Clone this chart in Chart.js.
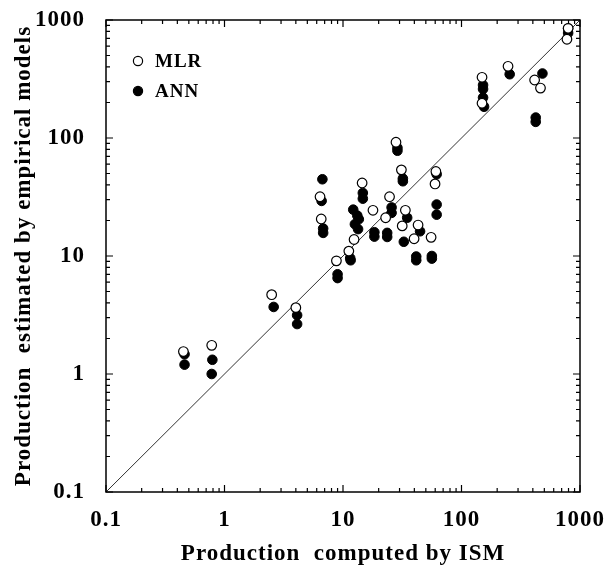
<!DOCTYPE html>
<html>
<head>
<meta charset="utf-8">
<script src="https://cdn.jsdelivr.net/npm/chart.js@4.4.1/dist/chart.umd.min.js"></script>
<style>
    html, body { margin: 0; padding: 0; background: #fff; }
</style>
</head>
<body>
<canvas id="myChart" width="615" height="569"></canvas>
<script>
// values (both axes log scale)
const mlrIsm = [0.45, 0.78, 2.5, 4.0, 6.4, 6.55, 8.8, 11.2, 12.4, 14.5, 17.9, 22.9, 24.7, 28, 31.1, 31.6, 33.6, 39.8, 43, 55.4, 59.8, 60.8, 149, 149, 247, 414, 464, 776, 794];
const mlrEst = [1.55, 1.75, 4.7, 3.65, 31.8, 20.6, 9.1, 11.0, 13.8, 41.6, 24.4, 21.1, 31.8, 92, 53.7, 18.0, 24.4, 14.0, 18.3, 14.4, 40.8, 52, 327, 197, 405, 310, 265, 687, 850];
const annIsm = [0.46, 0.46, 0.79, 0.78, 2.6, 4.1, 4.1, 6.7, 6.6, 6.8, 6.8, 9.0, 9.0, 11.5, 11.6, 12.2, 13.2, 12.6, 13.6, 13.4, 14.7, 14.7, 18.4, 18.4, 23.6, 23.6, 25.7, 25.7, 28.8, 28.8, 32, 32, 32.6, 34.8, 41.5, 41.5, 44.7, 56.2, 56.2, 61.7, 61.7, 61.7, 152, 152, 152, 155, 255, 423, 423, 482, 794, 794];
const annEst = [1.47, 1.2, 1.32, 1.0, 3.7, 3.15, 2.65, 44.7, 29.3, 17.1, 15.7, 7.0, 6.5, 9.6, 9.2, 24.7, 22, 18.6, 20.5, 16.9, 34.2, 30.6, 15.9, 14.6, 15.7, 14.5, 25.8, 23.2, 82.6, 78, 45.3, 43, 13.2, 21.1, 9.9, 9.2, 16.2, 10.0, 9.5, 49.3, 27.3, 22.4, 281, 260, 220, 184, 347, 149, 137, 352, 849, 776];
const lineIsm = [0.1, 1000];
const lineEst = [0.1, 1000];
const axisTicks = [0.1, 1, 10, 100, 1000];

const pairs = (xs, ys) => xs.map((v, i) => ({x: v, y: ys[i]}));
const serif = "'Liberation Serif', 'DejaVu Serif', serif";

// the printed figure uses a loosely tracked Times face
const tracking = {
    id: 'tracking',
    beforeInit(chart) { chart.ctx.letterSpacing = '1px'; },
    beforeDraw(chart) { chart.ctx.letterSpacing = '1px'; }
};

// frame, inward ticks on all four sides, and the legend inside the plot
const frameAndLegend = {
    id: 'frameAndLegend',
    afterDatasetsDraw(chart) {
        const ctx = chart.ctx;
        const a = chart.chartArea;
        const x = chart.scales.x, y = chart.scales.y;
        ctx.save();
        ctx.strokeStyle = '#000';
        ctx.lineWidth = 1.5;
        ctx.strokeRect(a.left, a.top, a.right - a.left, a.bottom - a.top);
        ctx.lineWidth = 1.2;
        ctx.beginPath();
        for (let e = -1; e <= 2; e++) {
            for (let m = 1; m <= 10; m++) {
                const v = m * Math.pow(10, e);
                const len = (m === 1 || m === 10) ? 7 : 4;
                const px = x.getPixelForValue(v);
                const py = y.getPixelForValue(v);
                ctx.moveTo(px, a.bottom); ctx.lineTo(px, a.bottom - len);
                ctx.moveTo(px, a.top); ctx.lineTo(px, a.top + len);
                ctx.moveTo(a.left, py); ctx.lineTo(a.left + len, py);
                ctx.moveTo(a.right, py); ctx.lineTo(a.right - len, py);
            }
        }
        ctx.stroke();

        // legend
        const items = [chart.data.datasets[0], chart.data.datasets[1]];
        ctx.font = 'bold 19px ' + serif;
        ctx.textBaseline = 'middle';
        ctx.textAlign = 'left';
        items.forEach((ds, i) => {
            const cy = a.top + 41 + i * 30;
            const cx = a.left + 32;
            ctx.beginPath();
            ctx.arc(cx, cy, 4.6, 0, Math.PI * 2);
            ctx.fillStyle = ds.backgroundColor;
            ctx.fill();
            ctx.lineWidth = 1.2;
            ctx.strokeStyle = ds.borderColor;
            ctx.stroke();
            ctx.fillStyle = '#000';
            ctx.fillText(ds.label, cx + 17, cy + 1);
        });
        ctx.restore();
    }
};

new Chart(document.getElementById('myChart'), {
    type: 'scatter',
    data: {
        datasets: [{
            label: 'MLR',
            data: pairs(mlrIsm, mlrEst),
            backgroundColor: '#fff',
            borderColor: '#000',
            borderWidth: 1.2,
            pointRadius: 4.8
        }, {
            label: 'ANN',
            data: pairs(annIsm, annEst),
            backgroundColor: '#000',
            borderColor: '#000',
            borderWidth: 1,
            pointRadius: 4.8
        }, {
            type: 'line',
            label: 'y = x',
            data: pairs(lineIsm, lineEst),
            borderColor: '#333',
            borderWidth: 1,
            pointRadius: 0,
            fill: false
        }]
    },
    options: {
        responsive: false,
        animation: false,
        layout: {
            padding: {top: 20, right: 35, left: 0, bottom: 0}
        },
        plugins: {
            legend: {display: false},
            tooltip: {enabled: false}
        },
        scales: {
            x: {
                type: 'logarithmic',
                min: 0.1,
                max: 1000,
                afterBuildTicks: (scale) => { scale.ticks = axisTicks.map(v => ({value: v})); },
                afterFit: (scale) => {
                    scale.height = 77;
                    scale.paddingLeft = 0;
                    scale.paddingRight = 0;
                },
                grid: {display: false, drawTicks: false},
                border: {display: false},
                ticks: {
                    callback: (v) => String(v),
                    color: '#000',
                    padding: 14,
                    maxRotation: 0,
                    font: {family: serif, size: 23, weight: 'bold'}
                },
                title: {
                    display: true,
                    text: 'Production  computed by ISM',
                    color: '#000',
                    padding: {top: 0, bottom: 1},
                    font: {family: serif, size: 23, weight: 'bold'}
                }
            },
            y: {
                type: 'logarithmic',
                min: 0.1,
                max: 1000,
                afterBuildTicks: (scale) => { scale.ticks = axisTicks.map(v => ({value: v})); },
                afterFit: (scale) => {
                    scale.width = 106;
                    scale.paddingTop = 0;
                    scale.paddingBottom = 0;
                },
                grid: {display: false, drawTicks: false},
                border: {display: false},
                ticks: {
                    callback: (v) => String(v),
                    color: '#000',
                    padding: 21,
                    font: {family: serif, size: 23, weight: 'bold'}
                },
                title: {
                    display: true,
                    text: 'Production  estimated by empirical models',
                    color: '#000',
                    padding: {top: 10, bottom: 0},
                    font: {family: serif, size: 23, weight: 'bold'}
                }
            }
        }
    },
    plugins: [tracking, frameAndLegend]
});
</script>
</body>
</html>
